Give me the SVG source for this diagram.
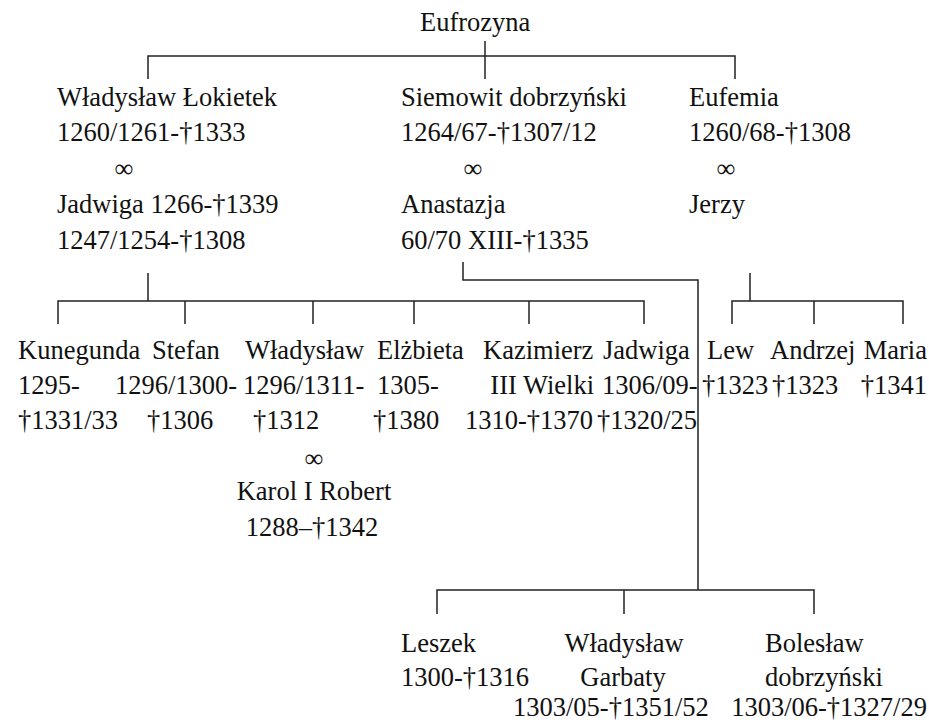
<svg xmlns="http://www.w3.org/2000/svg" width="929" height="724" viewBox="0 0 929 724">
<style>
text{font-family:"Liberation Serif","Times New Roman",serif;font-size:26.5px;fill:#111}
.m{text-anchor:middle}
.e{text-anchor:end}
.c{stroke:#222;stroke-width:1.5;fill:none}
</style>
<rect width="929" height="724" fill="#fff"/>
<g id="connectors" class="c">
<path d="M485 41V79M148 79V56H735V79"/>
<path d="M148 273V301M58 324V301H644V324M185 301V324M313 301V324M414 301V324M529 301V324"/>
<path d="M463 262V280H698V590M437 614V590H814V614M624 590V614"/>
<path d="M750 273V301M732 324V301H903V324M814 301V324"/>
</g>
<g id="eufrozyna"><text x="420" y="31">Eufrozyna</text></g>
<g id="lokietek">
<text x="57" y="106">Władysław Łokietek</text>
<text x="57" y="141">1260/1261-†1333</text>
<text x="124" y="177" class="m">∞</text>
<text x="57" y="213">Jadwiga 1266-†1339</text>
<text x="57" y="249">1247/1254-†1308</text>
</g>
<g id="siemowit">
<text x="401" y="106">Siemowit dobrzyński</text>
<text x="401" y="141">1264/67-†1307/12</text>
<text x="473" y="177" class="m">∞</text>
<text x="401" y="213">Anastazja</text>
<text x="401" y="249">60/70 XIII-†1335</text>
</g>
<g id="eufemia">
<text x="689" y="106">Eufemia</text>
<text x="689" y="141">1260/68-†1308</text>
<text x="726" y="177" class="m">∞</text>
<text x="689" y="213">Jerzy</text>
</g>
<g id="kunegunda">
<text x="18" y="359">Kunegunda</text>
<text x="18" y="394">1295-</text>
<text x="18" y="429">†1331/33</text>
</g>
<g id="stefan">
<text x="152" y="359">Stefan</text>
<text x="115" y="394">1296/1300-</text>
<text x="147" y="429">†1306</text>
</g>
<g id="wladyslaw">
<text x="245" y="359">Władysław</text>
<text x="243" y="394">1296/1311-</text>
<text x="253" y="429">†1312</text>
<text x="314" y="467" class="m">∞</text>
<text x="314" y="500" class="m">Karol I Robert</text>
<text x="312" y="536" class="m">1288–†1342</text>
</g>
<g id="elzbieta">
<text x="377" y="359">Elżbieta</text>
<text x="377" y="394">1305-</text>
<text x="373" y="429">†1380</text>
</g>
<g id="kazimierz">
<text x="483" y="359">Kazimierz</text>
<text x="594" y="394" class="e">III Wielki</text>
<text x="593" y="429" class="e">1310-†1370</text>
</g>
<g id="jadwiga">
<text x="603" y="359">Jadwiga</text>
<text x="602" y="394">1306/09-</text>
<text x="597" y="429">†1320/25</text>
</g>
<g id="lew">
<text x="707" y="359">Lew</text>
<text x="702" y="394">†1323</text>
</g>
<g id="andrzej">
<text x="770" y="359">Andrzej</text>
<text x="772" y="394">†1323</text>
</g>
<g id="maria">
<text x="927" y="359" class="e">Maria</text>
<text x="927" y="394" class="e">†1341</text>
</g>
<g id="leszek">
<text x="401" y="652">Leszek</text>
<text x="401" y="686">1300-†1316</text>
</g>
<g id="wladyslaw-garbaty">
<text x="624" y="652" class="m">Władysław</text>
<text x="623" y="686" class="m">Garbaty</text>
<text x="513" y="716">1303/05-†1351/52</text>
</g>
<g id="boleslaw">
<text x="765" y="652">Bolesław</text>
<text x="765" y="686">dobrzyński</text>
<text x="927" y="716" class="e">1303/06-†1327/29</text>
</g>
</svg>
